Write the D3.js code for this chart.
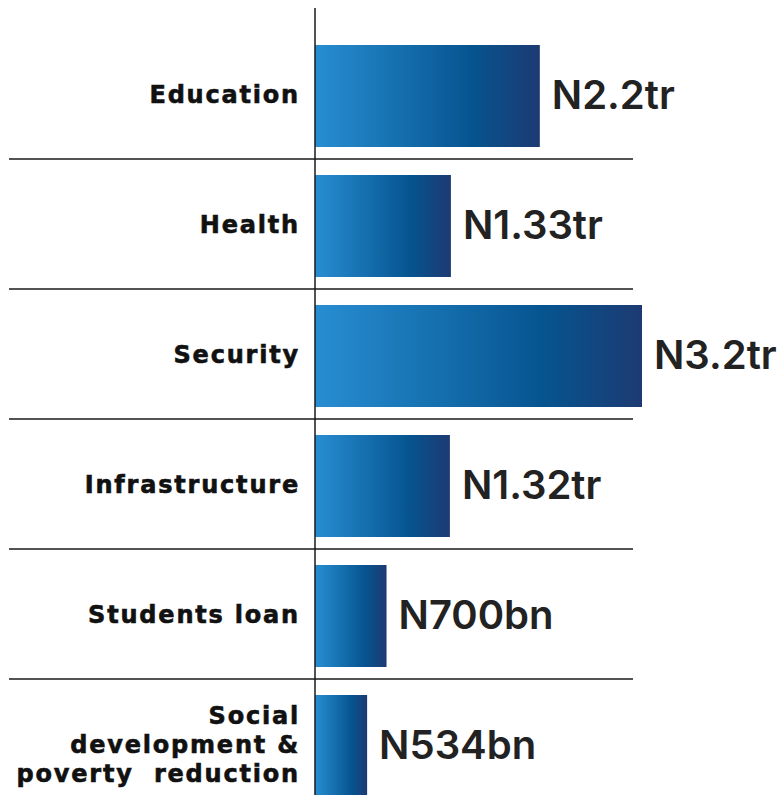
<!DOCTYPE html>
<html>
<head>
<meta charset="utf-8">
<script src="https://cdn.jsdelivr.net/npm/d3@7"></script>
<style>
  body { margin: 0; background: #fff; }
  text.cat { white-space: pre; }
</style>
</head>
<body>
<div id="chart"></div>
<script>
var categories = ["Education", "Health", "Security", "Infrastructure", "Students loan", "Social development & poverty reduction"];
var labelLines = [["Education"], ["Health"], ["Security"], ["Infrastructure"], ["Students loan"], ["Social", "development &", "poverty  reduction"]];
var values = [2.2, 1.33, 3.2, 1.32, 0.7, 0.51];
var valueLabels = ["N2.2tr", "N1.33tr", "N3.2tr", "N1.32tr", "N700bn", "N534bn"];

var full_width = 777,
    full_height = 795;

var axis_x = 315;

var svg = d3.select("#chart").append("svg")
    .attr("width", full_width)
    .attr("height", full_height);

var defs = svg.append("defs");
var grad = defs.append("linearGradient")
    .attr("id", "barGrad")
    .attr("x1", "0%").attr("x2", "100%")
    .attr("y1", "0%").attr("y2", "0%");
grad.append("stop").attr("offset", "0%").attr("stop-color", "#278ed2");
grad.append("stop").attr("offset", "70%").attr("stop-color", "#06548f");
grad.append("stop").attr("offset", "100%").attr("stop-color", "#1d3a72");

var x = d3.scaleLinear()
    .domain([0, 3.2])
    .range([axis_x, 642]);

var y = d3.scaleBand()
    .domain(categories)
    .range([30, 810])
    .paddingInner(0.2)
    .paddingOuter(0.1);

// separators between rows
var seps = categories.slice(1);
svg.selectAll("line.sep")
    .data(seps)
    .enter().append("line")
    .attr("class", "sep")
    .attr("x1", 9)
    .attr("x2", 633)
    .attr("y1", function(d) { return y(d) - y.step() * y.paddingInner() / 2 - 1; })
    .attr("y2", function(d) { return y(d) - y.step() * y.paddingInner() / 2 - 1; })
    .attr("stroke", "#1a1a1a")
    .attr("stroke-width", 1.5);

// bars
svg.selectAll("rect.bar")
    .data(categories)
    .enter().append("rect")
    .attr("class", "bar")
    .attr("x", x(0))
    .attr("y", function(d) { return y(d) + 2; })
    .attr("width", function(d, i) { return x(values[i]) - x(0); })
    .attr("height", y.bandwidth() - 2)
    .attr("fill", "url(#barGrad)");

// vertical axis line
svg.append("line")
    .attr("x1", axis_x).attr("x2", axis_x)
    .attr("y1", 8).attr("y2", full_height)
    .attr("stroke", "#1a1a1a")
    .attr("stroke-width", 1.5);

// category labels
var labels = svg.selectAll("text.cat")
    .data(categories)
    .enter().append("text")
    .attr("class", "cat")
    .attr("text-anchor", "end")
    .attr("font-family", "DejaVu Sans")
    .attr("font-weight", "bold")
    .attr("font-size", 24)
    .attr("letter-spacing", 1.8)
    .attr("fill", "#111")
    .attr("stroke", "#111")
    .attr("stroke-width", 0.6);

labels.each(function(d, i) {
    var lines = labelLines[i];
    var cy = y(d) + y.bandwidth() / 2;
    var lh = 29;
    var t = d3.select(this);
    lines.forEach(function(line, k) {
        t.append("tspan")
            .attr("x", 300)
            .attr("y", cy + (k - (lines.length - 1) / 2) * lh)
            .attr("dy", "0.35em")
            .text(line);
    });
});

// value labels
svg.selectAll("text.val")
    .data(categories)
    .enter().append("text")
    .attr("class", "val")
    .attr("x", function(d, i) { return x(values[i]) + 12; })
    .attr("y", function(d) { return y(d) + y.bandwidth() / 2; })
    .attr("dy", "0.35em")
    .attr("font-family", "Inter")
    .attr("font-weight", 600)
    .attr("font-size", 40)
    .attr("fill", "#222")
    .text(function(d, i) { return valueLabels[i]; });
</script>
</body>
</html>
